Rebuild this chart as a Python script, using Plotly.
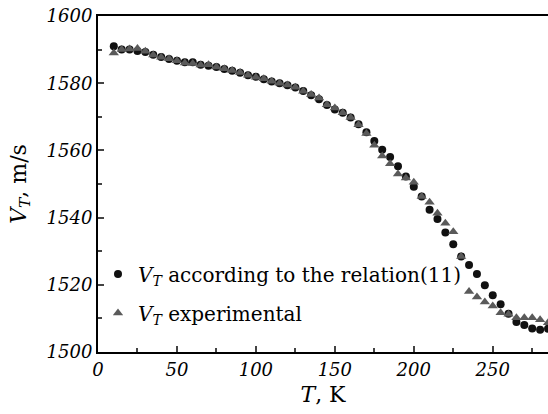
import plotly.graph_objects as go

T = [10, 15, 20, 25, 30, 35, 40, 45, 50, 55, 60, 65, 70, 75, 80, 85, 90, 95, 100,
     105, 110, 115, 120, 125, 130, 135, 140, 145, 150, 155, 160, 165, 170, 175,
     180, 185, 190, 195, 200, 205, 210, 215, 220, 225, 230, 235, 240, 245, 250,
     255, 260, 265, 270, 275, 280, 285]

V_calc = [1591.0, 1590.0, 1590.0, 1589.6, 1589.3, 1588.5, 1587.8, 1587.2, 1586.7,
          1586.2, 1586.2, 1585.5, 1585.2, 1584.8, 1584.2, 1583.7, 1583.1, 1582.4,
          1581.9, 1581.2, 1580.5, 1580.0, 1579.4, 1578.7, 1577.7, 1576.4, 1575.2,
          1573.5, 1572.2, 1571.2, 1569.8, 1567.8, 1565.4, 1562.8, 1560.2, 1558.0,
          1555.3, 1552.2, 1549.2, 1546.3, 1542.3, 1539.6, 1535.6, 1532.1, 1528.4,
          1525.9, 1523.2, 1519.9, 1516.9, 1514.2, 1511.4, 1508.9, 1508.0, 1507.0,
          1506.6, 1506.9]

V_exp = [1589.0, 1590.0, 1590.2, 1590.3, 1589.5, 1588.4, 1587.7, 1587.3, 1586.7,
         1586.0, 1585.9, 1585.4, 1585.5, 1584.8, 1584.3, 1583.8, 1583.2, 1582.4,
         1581.8, 1581.3, 1580.6, 1580.0, 1579.5, 1578.8, 1577.6, 1576.6, 1575.6,
         1573.6, 1572.6, 1571.2, 1569.8, 1567.6, 1565.0, 1561.5, 1558.3, 1556.0,
         1553.0, 1551.8, 1550.5, 1546.3, 1544.6, 1541.3, 1538.3, 1535.8, 1528.4,
         1518.0, 1516.4, 1514.9, 1513.7, 1511.7, 1511.2, 1510.2, 1510.2, 1510.2,
         1509.6, 1508.7]

x_ticks = [0, 50, 100, 150, 200, 250]
y_ticks = [1500, 1520, 1540, 1560, 1580, 1600]

FONT = "DejaVu Serif"

fig = go.Figure()
fig.add_trace(go.Scatter(
    x=T, y=V_calc, mode="markers", legendgroup="a",
    name="<i>V</i><sub><i>T</i></sub> according to the relation(11)",
    marker=dict(symbol="circle", size=8, color="#111111"),
))
fig.add_trace(go.Scatter(
    x=T, y=V_exp, mode="markers", legendgroup="b",
    name="<i>V</i><sub><i>T</i></sub> experimental",
    marker=dict(symbol="triangle-up", size=9, color="#5a5a5a"),
))

fig.update_layout(
    width=548, height=414,
    margin=dict(l=98, r=0, t=16, b=62),
    paper_bgcolor="white", plot_bgcolor="white",
    font=dict(family=FONT, color="black", size=17),
    showlegend=True,
    legend=dict(x=0.0, y=0.29, xanchor="left", yanchor="top",
                bgcolor="rgba(0,0,0,0)", font=dict(size=20, family=FONT),
                itemwidth=30, tracegroupgap=10),
)
fig.update_xaxes(
    range=[0, 285], tickvals=x_ticks, ticktext=[f"<i>{v}</i>" for v in x_ticks],
    ticks="inside", ticklen=6, tickwidth=1.5,
    showline=True, linewidth=2, linecolor="black", mirror=True,
    showgrid=False, zeroline=False,
    tickfont=dict(family=FONT, size=18, color="black"),
    minor=dict(dtick=25, ticks="inside", ticklen=4, tickwidth=1.5, showgrid=False),
    title=dict(text="<i>T</i>, K", font=dict(family=FONT, size=22), standoff=8),
)
fig.update_yaxes(
    range=[1500, 1600], tickvals=y_ticks, ticktext=[f"<i>{v}</i>" for v in y_ticks],
    ticks="inside", ticklen=6, tickwidth=1.5,
    showline=True, linewidth=2, linecolor="black", mirror=False,
    showgrid=False, zeroline=False,
    tickfont=dict(family=FONT, size=18, color="black"),
    minor=dict(dtick=10, ticks="inside", ticklen=4, tickwidth=1.5, showgrid=False),
    title=dict(text="<i>V</i><sub><i>T</i></sub>, m/s", font=dict(family=FONT, size=22), standoff=14),
)

fig.write_html("out.html")
